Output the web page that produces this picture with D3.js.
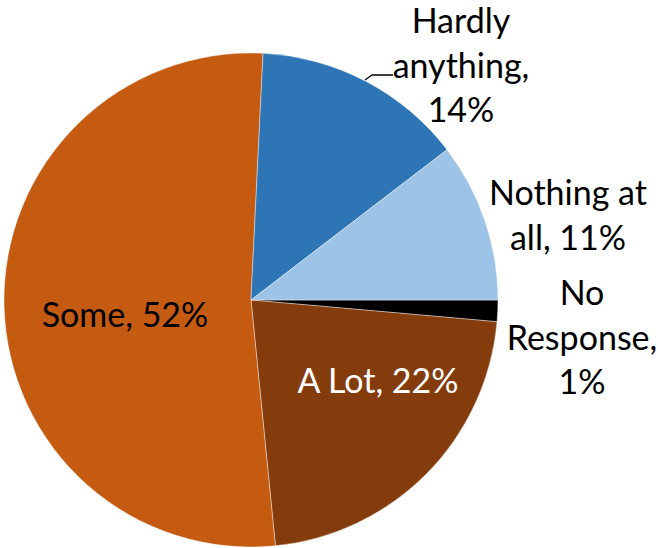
<!DOCTYPE html>
<html><head><meta charset="utf-8">
<script src="https://cdn.jsdelivr.net/npm/d3@7"></script>
<style>html,body{margin:0;padding:0;background:#fff;}svg{display:block;}</style>
</head><body>
<svg id="c" width="658" height="548"></svg>
<script>
// Data (clockwise from 3 o'clock, as in the original)
const categories = ["No Response", "A Lot", "Some", "Hardly anything", "Nothing at all"];
const values = [1.4, 22.0, 52.3, 13.8, 10.4];
const percentLabels = ["1%", "22%", "52%", "14%", "11%"];
const colors = ["#000000", "#843C0C", "#C55A11", "#2E75B6", "#9DC3E6"];

const svg = d3.select("#c");
const cx = 251, cy = 300, R = 247;
const g = svg.append("g").attr("transform", `translate(${cx},${cy})`);

const pie = d3.pie().sort(null).value(d => d.v)
  .startAngle(Math.PI / 2).endAngle(Math.PI / 2 + 2 * Math.PI);
const arc = d3.arc().innerRadius(0).outerRadius(R);
const data = categories.map((c, i) => ({c, v: values[i], p: percentLabels[i], col: colors[i]}));
const arcs = pie(data);

g.selectAll("path").data(arcs).enter().append("path")
  .attr("d", arc).attr("fill", d => d.data.col)
  .attr("stroke", "#fff").attr("stroke-width", 0.4);

// Label layout (absolute positions of text centres / baselines)
const font = "Lato, 'Liberation Sans', sans-serif";
const fs = 34, lh = 44.5;
const labelLayout = {
  "Some": {x: 125, y: 327, lines: ["Some, 52%"], fill: "#000"},
  "A Lot": {x: 378, y: 393, lines: ["A Lot, 22%"], fill: "#fff"},
  "Hardly anything": {x: 461, y: 33, lines: ["Hardly", "anything,", "14%"], fill: "#000"},
  "Nothing at all": {x: 568, y: 205, lines: ["Nothing at", "all, 11%"], fill: "#000"},
  "No Response": {x: 582, y: 305, lines: ["No", "Response,", "1%"], fill: "#000"}
};

// leader line for Hardly anything
svg.append("path")
  .attr("d", d3.line().curve(d3.curveLinear)([[365, 80], [372, 75], [393, 75]]))
  .attr("fill", "none").attr("stroke", "#000").attr("stroke-width", 1.3);

arcs.forEach(a => {
  const L = labelLayout[a.data.c];
  const t = svg.append("text")
    .attr("x", L.x).attr("y", L.y)
    .attr("text-anchor", "middle")
    .attr("font-family", font).attr("font-size", fs)
    .attr("fill", L.fill);
  L.lines.forEach((ln, i) => {
    t.append("tspan").attr("x", L.x).attr("dy", i === 0 ? 0 : lh).text(ln);
  });
});
</script>
</body></html>
